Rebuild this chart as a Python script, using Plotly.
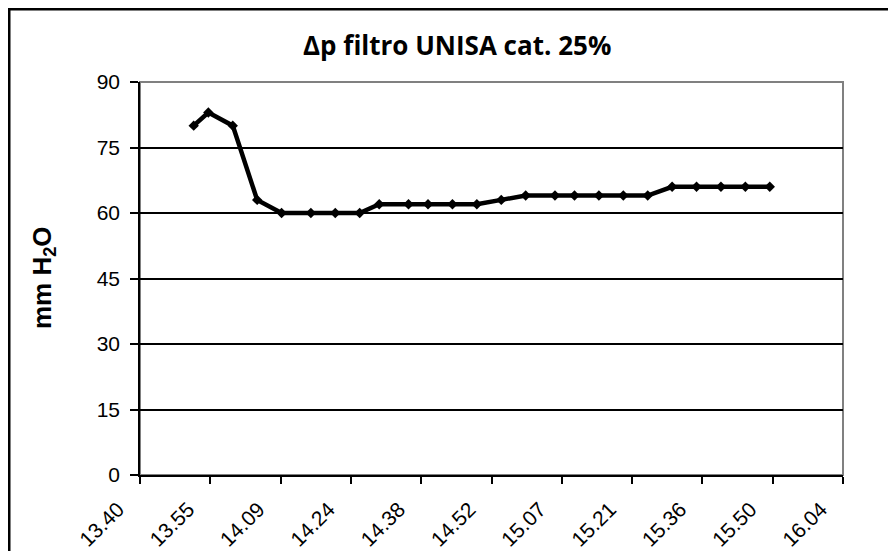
import plotly.graph_objects as go

# data
times = ["13:51", "13:54", "13:59", "14:04", "14:09", "14:15", "14:20", "14:25",
         "14:29", "14:35", "14:39", "14:44", "14:49", "14:54", "14:59", "15:05",
         "15:09", "15:14", "15:19", "15:24", "15:29", "15:34", "15:39", "15:44",
         "15:49"]
dp_mm_h2o = [80, 83, 80, 63, 60, 60, 60, 60, 62, 62, 62, 62, 62, 63, 64, 64,
             64, 64, 64, 64, 66, 66, 66, 66, 66]
x_tick_labels = ["13.40", "13.55", "14.09", "14.24", "14.38", "14.52",
                 "15.07", "15.21", "15.36", "15.50", "16.04"]
y_ticks = [0, 15, 30, 45, 60, 75, 90]

START = 13 * 60 + 40
def to_min(t):
    h, m = t.split(":")
    return int(h) * 60 + int(m) - START

x_vals = [to_min(t) for t in times]
step = 144 / (len(x_tick_labels) - 1)
tick_pos = [i * step for i in range(len(x_tick_labels))]

OFF = 8  # page body margin
W, H = 880, 543
L, R, T, B = 132, 45, 74, 76
pw, ph = W - L - R, H - T - B

def px_x(p):  # page px -> paper
    return (p - OFF - L) / pw

def px_y(p):
    return (H - B - (p - OFF)) / ph

fig = go.Figure()
fig.add_trace(go.Scatter(
    x=x_vals, y=dp_mm_h2o, mode="lines+markers",
    line=dict(color="black", width=4.5),
    marker=dict(symbol="diamond", size=8, color="black"),
    showlegend=False, cliponaxis=False,
))

fig.update_layout(
    width=W, height=H,
    margin=dict(l=L, r=R, t=T, b=B, pad=0, autoexpand=False),
    paper_bgcolor="white", plot_bgcolor="white",
    font=dict(family="Liberation Sans, Arial", size=21, color="black"),
    xaxis=dict(range=[0, 144], tickmode="array", tickvals=tick_pos,
               ticktext=x_tick_labels, tickangle=-45, showgrid=False,
               showline=True, linecolor="black", linewidth=1.5,
               ticks="outside", ticklen=7, tickwidth=1.5, tickcolor="black",
               ticklabelshift=-22, ticklabelstandoff=5, automargin=False,
               zeroline=False, fixedrange=True),
    yaxis=dict(range=[0, 90], tickmode="array", tickvals=y_ticks,
               showgrid=True, gridcolor="black", gridwidth=1.5,
               showline=True, linecolor="black", linewidth=1.5,
               ticks="outside", ticklen=8, tickwidth=1.5, tickcolor="black",
               ticklabelstandoff=6, automargin=False,
               zeroline=False, fixedrange=True),
    shapes=[
        dict(type="rect", xref="paper", yref="paper", x0=0, x1=1, y0=0, y1=1,
             line=dict(color="#808080", width=2), layer="below"),
        dict(type="rect", xref="paper", yref="paper",
             x0=px_x(OFF + 1.25), x1=px_x(W + 40), y0=px_y(H + 40),
             y1=px_y(OFF + 1.25),
             line=dict(color="black", width=2.5)),
    ],
    annotations=[
        dict(text="<b>Δp f\u200cil\u200ctro UNISA cat. 25%</b>", xref="paper",
             yref="paper", x=px_x(457), y=px_y(45), showarrow=False,
             xanchor="center", yanchor="middle",
             font=dict(family="Open Sans, Lato", size=26)),
        dict(text="<b>mm H<sub>2</sub>O</b>", xref="paper", yref="paper",
             x=px_x(43), y=px_y(278), showarrow=False, textangle=-90,
             xanchor="center", yanchor="middle",
             font=dict(family="Liberation Sans, Arial", size=26)),
    ],
)

fig.write_html("out.html")
